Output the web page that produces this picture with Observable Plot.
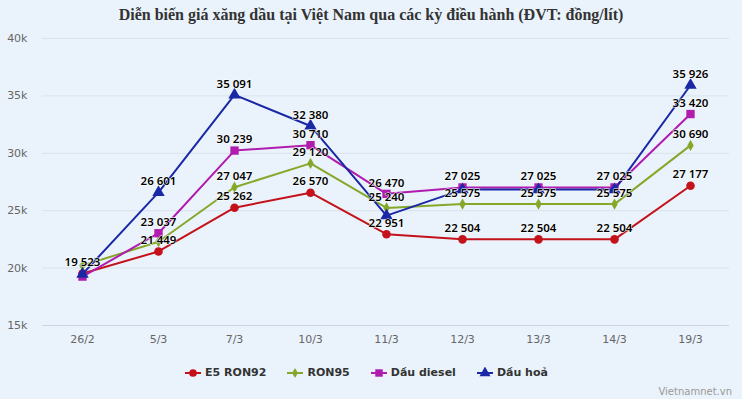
<!DOCTYPE html>
<html><head><meta charset="utf-8">
<script src="https://cdn.jsdelivr.net/npm/d3@7"></script>
<script src="https://cdn.jsdelivr.net/npm/@observablehq/plot@0.6"></script>
<style>
html,body{margin:0;padding:0;background:#eaf3fc;}
#wrap{position:relative;width:742px;height:399px;background:#eaf3fc;overflow:hidden;}
#title{position:absolute;top:6px;left:0;width:742px;text-align:center;font:bold 16px "Liberation Serif",serif;color:#333;}
#chart{position:absolute;top:30px;left:0;}
#legend{position:absolute;top:366px;left:0;width:732px;display:flex;justify-content:center;gap:20px;font:bold 11px "DejaVu Sans",sans-serif;color:#333;}
#legend .item{display:flex;align-items:center;gap:3px;}
#credit{position:absolute;right:10px;top:386px;font:10px "DejaVu Sans",sans-serif;color:#999;}
</style></head>
<body>
<div id="wrap">
  <div id="title">Diễn biến giá xăng dầu tại Việt Nam qua các kỳ điều hành (ĐVT: đồng/lít)</div>
  <div id="chart"></div>
  <div id="legend"></div>
  <div id="credit">Vietnamnet.vn</div>
</div>
<script>
// ---- data ----
const dates = ["26/2","5/3","7/3","10/3","11/3","12/3","13/3","14/3","19/3"];
const seriesNames = ["E5 RON92","RON95","Dầu diesel","Dầu hoả"];
const e5ron92   = [19523, 21449, 25262, 26570, 22951, 22504, 22504, 22504, 27177];
const ron95     = [20220, 22300, 27047, 29120, 25240, 25575, 25575, 25575, 30690];
const diesel    = [19260, 23037, 30239, 30710, 26470, 27025, 27025, 27025, 33420];
const kerosene  = [19480, 26601, 35091, 32380, 24570, 26840, 26840, 26840, 35926];
const yTicks = [15000, 20000, 25000, 30000, 35000, 40000];

// ---- styling ----
const seriesValues = [e5ron92, ron95, diesel, kerosene];
const colors = ["#c4121a", "#86a82a", "#b01cae", "#1b28a6"];
const symbols = ["circle", "diamond", "square", "triangle"];
const radii = [4.3, 3.4, 4.7, 4.6];

const W = 742, H = 322, mT = 8, mB = 27, mL = 42, mR = 13;

const rows = [];
seriesValues.forEach((vals, s) => vals.forEach((v, i) => rows.push({series: seriesNames[s], s, date: dates[i], i, value: v})));

// hide overlapping data labels (series order priority)
const yS = Plot.scale({y: {domain: [15000, 40000], range: [H - mB, mT]}});
const labels = [];
dates.forEach((d, i) => {
  const shown = [];
  seriesValues.forEach((vals, s) => {
    const py = yS.apply(vals[i]);
    if (shown.every(q => Math.abs(q - py) >= 12)) { shown.push(py); labels.push(rows.find(r => r.s === s && r.i === i)); }
  });
});

const fmt = v => d3.format(",")(v).replace(/,/g, " ");

const marks = [
  Plot.gridY(yTicks.slice(1), {stroke: "#d9e2ec", strokeOpacity: 1}),
  Plot.ruleY([15000], {stroke: "#c9d4e4"}),
  Plot.axisY({ticks: yTicks, tickSize: 0, tickPadding: 15, tickFormat: d => d / 1000 + "k", fill: "#666", fontSize: 11}),
  Plot.axisX({tickSize: 0, tickPadding: 10, fill: "#666", fontSize: 11, label: null})
];
seriesNames.forEach((name, s) => {
  const data = rows.filter(r => r.s === s);
  marks.push(Plot.line(data, {x: "date", y: "value", stroke: colors[s], strokeWidth: 2}));
  marks.push(Plot.dot(data, {x: "date", y: "value", fill: colors[s], symbol: () => symbols[s], r: radii[s]}));
});
marks.push(Plot.text(labels, {x: "date", y: "value", text: d => fmt(d.value), dy: -11, fill: "#000", stroke: "#fff", strokeWidth: 1, fontSize: 11.5, fontWeight: 600, fontFamily: "Noto Sans"}));

const chart = Plot.plot({
  width: W, height: H, marginTop: mT, marginBottom: mB, marginLeft: mL, marginRight: mR,
  style: {background: "transparent", fontFamily: "DejaVu Sans"},
  x: {type: "point", domain: dates, padding: 0.5, label: null},
  y: {domain: [15000, 40000], label: null},
  marks
});
document.getElementById("chart").appendChild(chart);

// legend
const leg = document.getElementById("legend");
seriesNames.forEach((name, s) => {
  const item = document.createElement("div");
  item.className = "item";
  const sym = d3.symbol(d3["symbol" + symbols[s][0].toUpperCase() + symbols[s].slice(1)], Math.PI * radii[s] * radii[s] * 0.8)();
  item.innerHTML = `<svg width="18" height="12"><line x1="1" x2="17" y1="6" y2="6" stroke="${colors[s]}" stroke-width="2"/><path d="${sym}" transform="translate(9,6)" fill="${colors[s]}"/></svg><span>${name}</span>`;
  leg.appendChild(item);
});
</script>
</body></html>
